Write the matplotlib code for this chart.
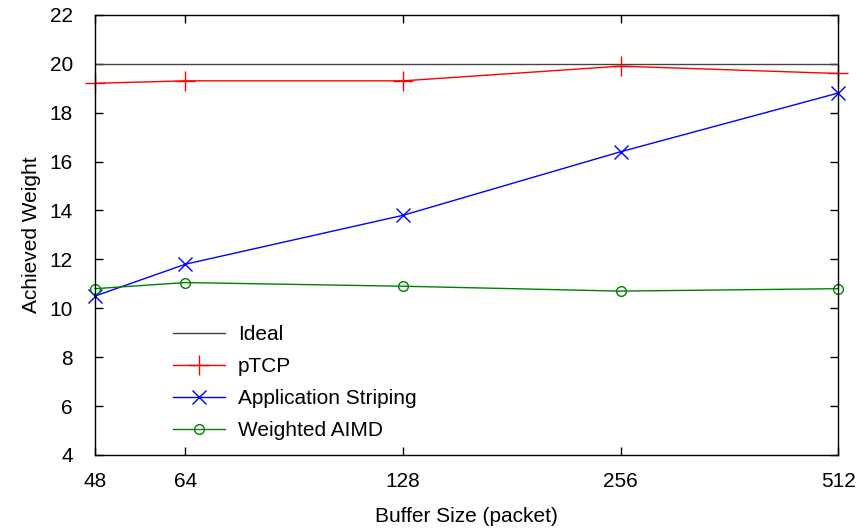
import matplotlib.pyplot as plt
import numpy as np

plt.rcParams['font.family'] = ['Liberation Sans', 'DejaVu Sans']

buffer_sizes = [48, 64, 128, 256, 512]
ideal = [20, 20, 20, 20, 20]
ptcp = [19.2, 19.3, 19.3, 19.9, 19.6]
app_striping = [10.5, 11.8, 13.8, 16.4, 18.8]
weighted_aimd = [10.8, 11.05, 10.9, 10.7, 10.8]

fig = plt.figure(figsize=(8.57, 5.29), dpi=100)
ax = fig.add_axes([0.111, 0.140, 0.867, 0.832])

ax.plot(buffer_sizes, ideal, color='#444444', lw=1.0, label='Ideal')
ax.plot(buffer_sizes, ptcp, color='red', lw=1.0, marker='+', ms=14, mew=1.0,
        label='pTCP', clip_on=False)
ax.plot(buffer_sizes, app_striping, color='blue', lw=1.0, marker='x', ms=10, mew=1.0,
        label='Application Striping', clip_on=False)
ax.plot(buffer_sizes, weighted_aimd, color='green', lw=1.0, marker='o', ms=7, mew=1.0,
        mfc='none', label='Weighted AIMD', clip_on=False)

ax.set_xscale('log', base=2)
ax.set_xlim(48, 512)
ax.set_xticks(buffer_sizes)
ax.set_xticklabels([str(b) for b in buffer_sizes])
ax.minorticks_off()
ax.set_ylim(4, 22)
ax.set_yticks(np.arange(4, 23, 2))

ax.tick_params(direction='in', top=True, right=True, length=6, width=1,
               labelsize=15)
ax.tick_params(axis='x', pad=12)
ax.tick_params(axis='y', pad=16)
for s in ax.spines.values():
    s.set_linewidth(1.0)

ax.set_xlabel('Buffer Size (packet)', fontsize=15, labelpad=12)
ax.set_ylabel('Achieved Weight', fontsize=15, labelpad=6)

ax.legend(loc='lower left', bbox_to_anchor=(0.08, -0.009), frameon=False, fontsize=15,
          handlelength=2.5, labelspacing=0.62, handletextpad=0.6)

fig.savefig('out.png', dpi=100)
